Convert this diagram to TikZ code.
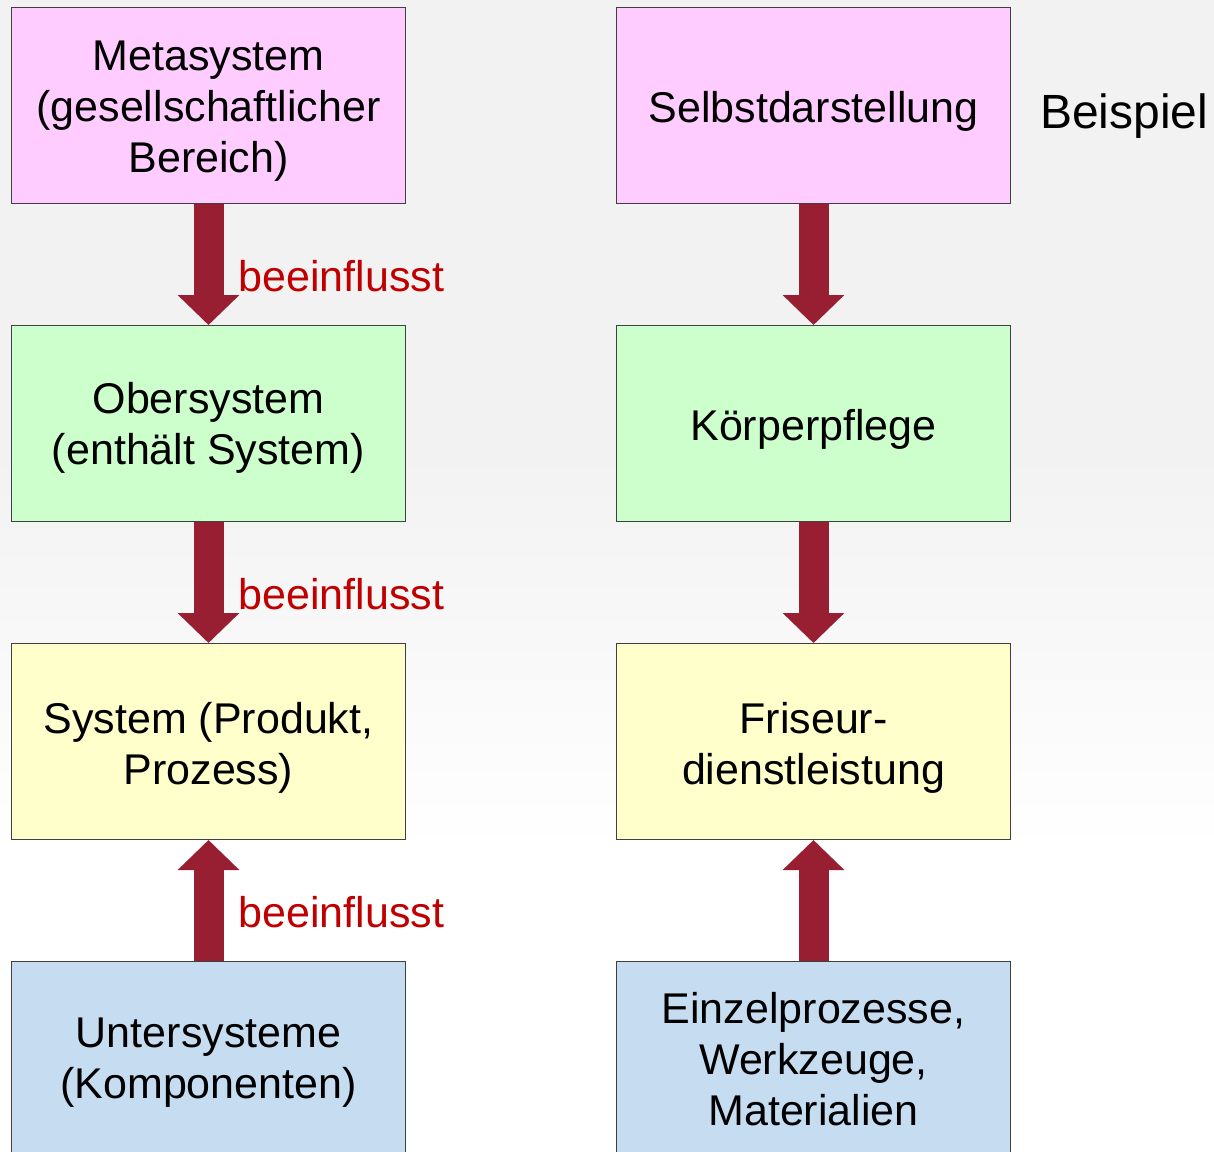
\documentclass[tikz,border=0pt]{standalone}
\usepackage{fontspec}
\setmainfont{Liberation Sans}
\usepackage{tikz}
\usetikzlibrary{positioning,arrows.meta}
\definecolor{bgGray}{HTML}{F2F2F2}
\definecolor{metaPink}{HTML}{FFCCFF}
\definecolor{oberGreen}{HTML}{CCFFCC}
\definecolor{sysYellow}{HTML}{FFFFCC}
\definecolor{unterBlue}{HTML}{C6DDF1}
\definecolor{arrowRed}{HTML}{981E32}
\definecolor{labelRed}{HTML}{C00000}

\begin{document}
\begin{tikzpicture}[
  x=1pt,y=1pt,
  box/.style={draw=black!75,line width=1pt,minimum width=394pt,minimum height=196pt,
    inner sep=0pt},
  boxtext/.style={align=center,inner sep=0pt,yshift=-6pt,font=\fontsize{43pt}{51pt}\selectfont},
  ]
  \tikzset{%
    bigarrow/.style={
      draw=arrowRed,
      line width=30pt,
      line cap=butt,
      -{Triangle[width=60pt,length=30pt]},
    },
    lbl/.style={
      text=labelRed,
      inner sep=0pt,
      anchor=base west,
      font=\fontsize{43pt}{51pt}\selectfont,
    },
  }
  %Background
  \useasboundingbox (0,0) rectangle (1214,-1151);
  \fill[bgGray] (0,0) rectangle (1214,-450);
  \shade[top color=bgGray,bottom color=white] (0,-450) rectangle (1214,-850);
  \fill[white] (0,-850) rectangle (1214,-1151);
  %Nodes
  \node[box,fill=metaPink,anchor=north west,label={[boxtext]center:{Metasystem\\(gesellschaftlicher\\Bereich)}}](meta) at (11,-7){};
  \node[box,fill=oberGreen,label={[boxtext,yshift=2pt]center:{Obersystem\\(enthält System)}}](ober)[below=121pt of meta]{};
  \node[box,fill=sysYellow,label={[boxtext]center:{System (Produkt,\\Prozess)}}](sys)[below=121pt of ober]{};
  \node[box,fill=unterBlue,label={[boxtext,yshift=3pt]center:{Untersysteme\\(Komponenten)}}](unter)[below=121pt of sys]{};
  \node[box,fill=metaPink,label={[boxtext]center:{Selbstdarstellung}}](selbst)[right=210pt of meta]{};
  \node[box,fill=oberGreen,label={[boxtext]center:{Körperpflege}}](koerper)[below=121pt of selbst]{};
  \node[box,fill=sysYellow,label={[boxtext]center:{Friseur-\\dienstleistung}}](friseur)[below=121pt of koerper]{};
  \node[box,fill=unterBlue,label={[boxtext,yshift=6pt]center:{Einzelprozesse,\\Werkzeuge,\\Materialien}}](einzel)[below=121pt of friseur]{};
  \node[lbl,text=black,font=\fontsize{48pt}{56pt}\selectfont](bsp) at (1040,-128){Beispiel};
  %Arrows
  \draw[bigarrow] (meta.south) -- (ober.north);
  \draw[bigarrow] (ober.south) -- (sys.north);
  \draw[bigarrow] (unter.north) -- (sys.south);
  \draw[bigarrow] (selbst.south) -- (koerper.north);
  \draw[bigarrow] (koerper.south) -- (friseur.north);
  \draw[bigarrow] (einzel.north) -- (friseur.south);
  %Labels
  \node[lbl](l1) at ([xshift=30pt,yshift=-87pt]meta.south){beeinflusst};
  \node[lbl](l2) at ([xshift=30pt,yshift=-87pt]ober.south){beeinflusst};
  \node[lbl](l3) at ([xshift=30pt,yshift=-87pt]sys.south){beeinflusst};
\end{tikzpicture}
\end{document}
